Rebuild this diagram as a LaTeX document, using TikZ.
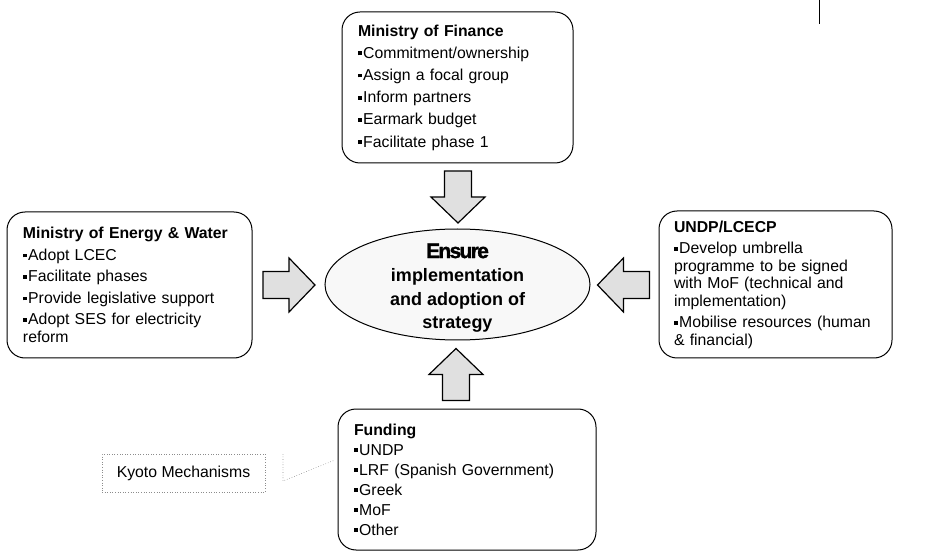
\documentclass[tikz,border=0pt]{standalone}
\usepackage{fontspec}
\setmainfont{Liberation Sans}
\newfontfamily\heavyfont[FakeBold=1.5,LetterSpace=-8]{Liberation Sans}
\usepackage{xcolor}
\definecolor{stipple}{RGB}{224,224,224}
\definecolor{paleoval}{RGB}{248,248,248}
\usepackage{tikz}
\usetikzlibrary{shapes.geometric}
\newcommand{\sqb}{\rule[3pt]{3.8pt}{3.8pt}\hspace{1.4pt}}

\tikzset{
  panel/.style={draw, line width=1pt, rounded corners=18pt, align=left,
    inner xsep=16pt, font=\fontsize{15.8}{21.5}\selectfont},
  callout/.style={draw=black!45, dotted, line width=0.6pt},
  blockarrow/.pic={
    \draw[line width=1.2pt, fill=stipple, line join=miter]
      (-26,-13.5) -- (0,-13.5) -- (0,-27) -- (26,0) -- (0,27) -- (0,13.5) -- (-26,13.5) -- cycle;
  }
}

\begin{document}
\begin{tikzpicture}[x=1pt, y=-1pt]
  \useasboundingbox (0,0) rectangle (930,556);
  \draw[line width=1pt] (819,0) -- (819,24);

  \node[panel, minimum width=231pt, minimum height=151pt, text width=199pt,
        font=\fontsize{15.8}{22.2}\selectfont] (mof) at (457.5,87.5)
    {\textbf{Ministry of Finance}\\
     \sqb Commitment/ownership\\
     \sqb Assign a focal group\\
     \sqb Inform partners\\
     \sqb Earmark budget\\
     \sqb Facilitate phase 1};
  \node[panel, minimum width=245pt, minimum height=146pt, text width=213pt] (mew) at (129.5,285)
    {\textbf{Ministry of Energy \& Water}\\
     \sqb Adopt LCEC\\
     \sqb Facilitate phases\\
     \sqb Provide legislative support\\
     \sqb Adopt SES for electricity\\[-4pt]
     reform};
  \node[panel, minimum width=233pt, minimum height=147pt, text width=203pt,
        inner xsep=15pt] (undp) at (775.5,284.5)
    {\textbf{UNDP/LCECP}\\
     \sqb Develop umbrella\\[-4pt]
     programme to be signed\\[-4pt]
     with MoF (technical and\\[-4pt]
     implementation)\\
     \sqb Mobilise resources (human\\[-4pt]
     \& financial)};
  \node[panel, minimum width=258pt, minimum height=141pt, text width=226pt,
        font=\fontsize{15.8}{20}\selectfont] (fund) at (467,479.5)
    {\textbf{Funding}\\
     \sqb UNDP\\
     \sqb LRF (Spanish Government)\\
     \sqb Greek\\
     \sqb MoF\\
     \sqb Other};

  \node[ellipse, draw, line width=1pt, fill=paleoval, minimum width=265pt,
        minimum height=111pt, inner sep=0pt] (goal) at (457.5,284.5) {};
  \node[align=center, font=\bfseries\fontsize{18}{23.5}\selectfont] (goaltext) at (457.5,288)
    {{\heavyfont\fontsize{21}{23.5}\selectfont Ensure}\\
     implementation\\and adoption of\\strategy};

  \pic[rotate=-90] at (458,197) {blockarrow};
  \pic at (289,285) {blockarrow};
  \pic[rotate=180] at (623.5,285) {blockarrow};
  \pic[rotate=90] at (456,374.5) {blockarrow};

  \node[draw=black!45, dotted, line width=0.6pt, minimum width=163pt, minimum height=38pt,
        font=\fontsize{15.8}{18}\selectfont] (kyoto) at (183.5,473) {Kyoto Mechanisms};
  \coordinate (kybar) at (283,454);
  \coordinate (kyfoot) at (283,481);
  \coordinate (kytip) at (335,460);
  \draw[callout] (kybar) -- (kyfoot) -- (kytip);
\end{tikzpicture}
\end{document}
